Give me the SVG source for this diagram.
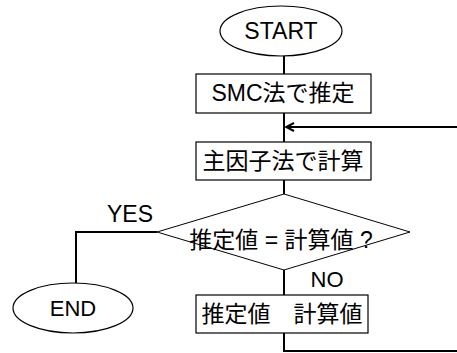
<svg xmlns="http://www.w3.org/2000/svg" width="457" height="353" viewBox="0 0 457 353">
<style>
.s{fill:#fff;stroke:#000;stroke-width:1.2}
.t{font-family:"Liberation Sans","Noto Sans CJK JP",sans-serif;font-size:23px;fill:#000;text-anchor:middle}
.c{fill:none;stroke:#000;stroke-width:2}
</style>
<defs>
<marker id="ah" viewBox="0 0 10 10" refX="9" refY="5" markerWidth="10" markerHeight="10" markerUnits="userSpaceOnUse" orient="auto">
<path d="M1,1 L9,5 L1,9" fill="none" stroke="#000" stroke-width="2"/>
</marker>
</defs>
<g id="connectors">
<line class="c" x1="284" y1="56" x2="284" y2="74"/>
<line class="c" x1="284" y1="113" x2="284" y2="142"/>
<line class="c" x1="457" y1="127" x2="286" y2="127" marker-end="url(#ah)"/>
<line class="c" x1="284" y1="180" x2="284" y2="194"/>
<polyline class="c" points="157,232 76,232 76,283"/>
<line class="c" x1="284" y1="270" x2="284" y2="295"/>
<polyline class="c" points="284,333 284,351 457,351"/>
</g>
<g id="start">
<ellipse class="s" cx="281" cy="31" rx="61" ry="25"/>
<text class="t" x="281" y="39">START</text>
</g>
<g id="smc">
<rect class="s" x="196" y="74" width="175" height="39"/>
<text class="t" x="283" y="101">SMC法で推定</text>
</g>
<g id="calc">
<rect class="s" x="196" y="142" width="175" height="38"/>
<text class="t" x="283" y="169">主因子法で計算</text>
</g>
<g id="decision">
<polygon class="s" points="157,232 284,194 410,232 284,270" style="stroke-width:1"/>
<text class="t" x="281" y="248">推定値 = 計算値 ?</text>
</g>
<g id="end">
<ellipse class="s" cx="73" cy="308" rx="60" ry="25"/>
<text class="t" x="73" y="316" style="font-size:22px">END</text>
</g>
<g id="update">
<rect class="s" x="196" y="295" width="172" height="38"/>
<text class="t" x="282" y="322">推定値　計算値</text>
</g>
<g id="labels">
<text class="t" x="130" y="222">YES</text>
<text class="t" x="327" y="287" style="font-size:22px">NO</text>
</g>
</svg>
